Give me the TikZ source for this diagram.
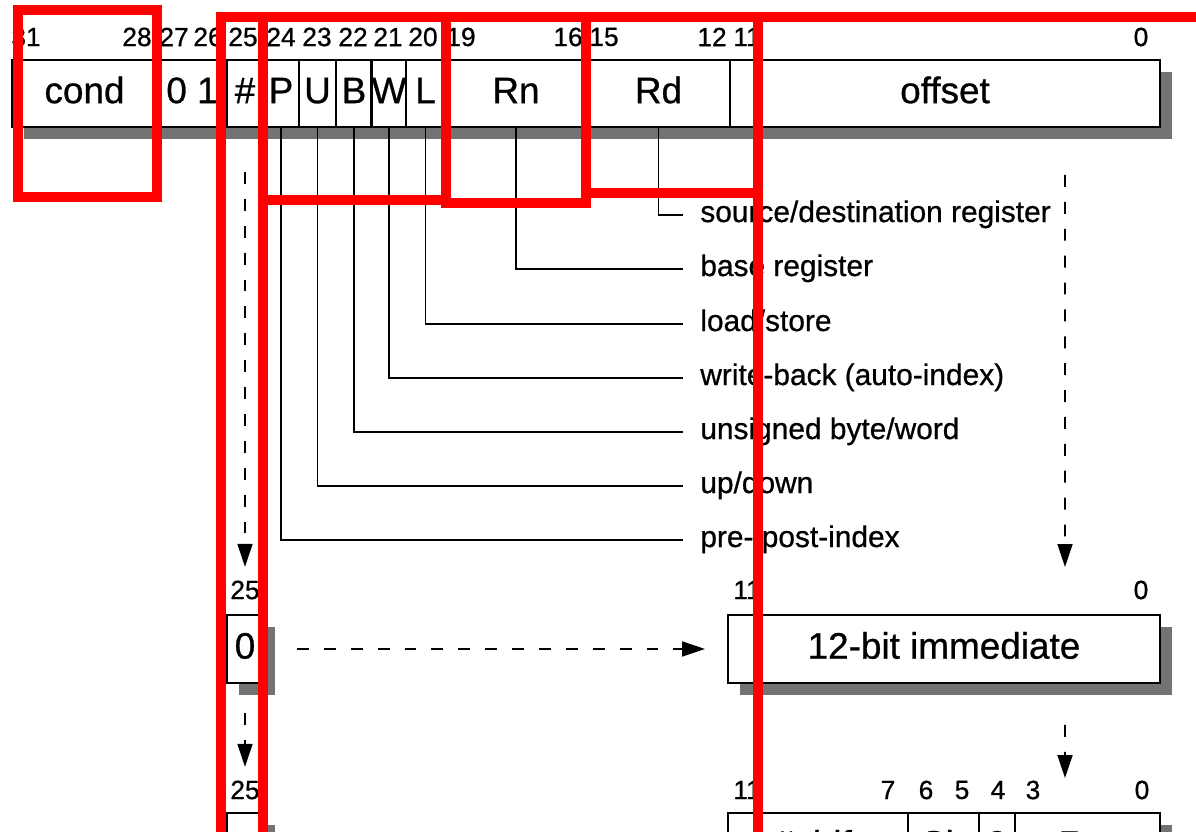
\documentclass[tikz,border=0pt]{standalone}
\usepackage{fontspec}
\setmainfont{Liberation Sans}[FakeBold=0.7]
\usetikzlibrary{arrows.meta,backgrounds}

\begin{document}
\begin{tikzpicture}
  [
    field/.style={draw=black, fill=white, line width=1.3pt, minimum height=1.34cm,
    inner sep=0pt, outer sep=0pt, text height=15pt, text depth=4pt,
    font=\fontsize{21}{21}\selectfont},
    bitno/.style={inner sep=0pt, font=\fontsize{15}{15}\selectfont},
    lbl/.style={anchor=west, inner sep=0pt, text height=12pt, text depth=4pt,
    font=\fontsize{17}{17}\selectfont},
    ld/.style={draw=black, line width=0.9pt, shorten >=0.34cm},
    flow/.style={draw=black, line width=1pt, dash pattern=on 6.8pt off 8.5pt,
    -{Triangle[length=13pt, width=8.5pt]}},
    shade/.style={fill=black!55},
    redbox/.style={draw=red, line width=0.2cm}
  ]
  \useasboundingbox (0,0) rectangle (23.92,-16.64);

  % instruction word
  \node (fCond)   at ( 1.69,-1.87) [field, minimum width=2.90cm] {cond};
  \node (fOp)     at ( 3.84,-1.87) [field, minimum width=1.40cm] {0 1};
  \node (fHash)   at ( 4.90,-1.87) [field, minimum width=0.72cm] {\#};
  \node (fP)      at ( 5.62,-1.87) [field, minimum width=0.72cm] {P};
  \node (fU)      at ( 6.35,-1.87) [field, minimum width=0.74cm] {U};
  \node (fB)      at ( 7.08,-1.87) [field, minimum width=0.72cm] {B};
  \node (fW)      at ( 7.78,-1.87) [field, minimum width=0.68cm] {W};
  \node (fL)      at ( 8.51,-1.87) [field, minimum width=0.78cm] {L};
  \node (fRn)     at (10.32,-1.87) [field, minimum width=2.84cm] {Rn};
  \node (fRd)     at (13.17,-1.87) [field, minimum width=2.86cm] {Rd};
  \node (fOffset) at (18.90,-1.87) [field, minimum width=8.60cm] {offset};

  \node (b31) at ( 0.52,-0.74) [bitno] {31};
  \node (b28) at ( 2.74,-0.74) [bitno] {28};
  \node (b27) at ( 3.48,-0.74) [bitno] {27};
  \node (b26) at ( 4.16,-0.74) [bitno] {26};
  \node (b25) at ( 4.86,-0.74) [bitno] {25};
  \node (b24) at ( 5.62,-0.74) [bitno] {24};
  \node (b23) at ( 6.34,-0.74) [bitno] {23};
  \node (b22) at ( 7.06,-0.74) [bitno] {22};
  \node (b21) at ( 7.76,-0.74) [bitno] {21};
  \node (b20) at ( 8.46,-0.74) [bitno] {20};
  \node (b19) at ( 9.22,-0.74) [bitno] {19};
  \node (b16) at (11.36,-0.74) [bitno] {16};
  \node (b15) at (12.08,-0.74) [bitno] {15};
  \node (b12) at (14.24,-0.74) [bitno] {12};
  \node (b11) at (14.94,-0.74) [bitno] {11};
  \node (b0)  at (22.82,-0.74) [bitno] {0};

  % field meanings
  \node (lRd) at (14.0, -4.30) [lbl] {source/destination register};
  \node (lRn) at (14.0, -5.38) [lbl] {base register};
  \node (lL)  at (14.0, -6.48) [lbl] {load/store};
  \node (lW)  at (14.0, -7.56) [lbl] {write-back (auto-index)};
  \node (lB)  at (14.0, -8.64) [lbl] {unsigned byte/word};
  \node (lU)  at (14.0, -9.72) [lbl] {up/down};
  \node (lP)  at (14.0,-10.80) [lbl] {pre-/post-index};

  \draw [ld] (fRd.south) |- (lRd.west);
  \draw [ld] (fRn.south) |- (lRn.west);
  \draw [ld] (fL.south) |- (lL.west);
  \draw [ld] (fW.south) |- (lW.west);
  \draw [ld] (fB.south) |- (lB.west);
  \draw [ld] (fU.south) |- (lU.west);
  \draw [ld] (fP.south) |- (lP.west);

  % immediate offset
  \node (b25m) at ( 4.90,-11.80) [bitno] {25};
  \node (b11m) at (14.94,-11.80) [bitno] {11};
  \node (b0m)  at (22.82,-11.80) [bitno] {0};
  \node (fZero) at ( 4.90,-12.98) [field, minimum width=0.72cm, minimum height=1.36cm] {0};
  \node (fImm)  at (18.88,-12.98) [field, minimum width=8.64cm, minimum height=1.36cm] {12-bit immediate};

  % register offset
  \node (b25b) at ( 4.90,-15.80) [bitno] {25};
  \node (b11b) at (14.94,-15.80) [bitno] {11};
  \node (b7b)  at (17.76,-15.80) [bitno] {7};
  \node (b6b)  at (18.52,-15.80) [bitno] {6};
  \node (b5b)  at (19.24,-15.80) [bitno] {5};
  \node (b4b)  at (19.96,-15.80) [bitno] {4};
  \node (b3b)  at (20.66,-15.80) [bitno] {3};
  \node (b0b)  at (22.84,-15.80) [bitno] {0};
  \node (fReg)   at ( 4.90,-16.94) [field, minimum width=0.72cm, minimum height=1.36cm] {};
  \node (fShift) at (16.36,-16.94) [field, minimum width=3.60cm, minimum height=1.36cm] {\#shift};
  \node (fSh)    at (18.87,-16.94) [field, minimum width=1.42cm, minimum height=1.36cm] {Sh};
  \node (fNil)   at (19.94,-16.94) [field, minimum width=0.72cm, minimum height=1.36cm] {0};
  \node (fRm)    at (21.75,-16.94) [field, minimum width=2.90cm, minimum height=1.36cm] {Rm};

  \begin{pgfonlayer}{background}
    \fill [shade] ([shift={(0.24,-0.24)}]fCond.south west) rectangle ([shift={(0.24,-0.24)}]fOffset.north east);
    \fill [shade] ([shift={(0.24,-0.24)}]fZero.south west) rectangle ([shift={(0.24,-0.24)}]fZero.north east);
    \fill [shade] ([shift={(0.24,-0.24)}]fImm.south west) rectangle ([shift={(0.24,-0.24)}]fImm.north east);
    \fill [shade] ([shift={(0.24,-0.24)}]fReg.south west) rectangle ([shift={(0.24,-0.24)}]fReg.north east);
    \fill [shade] ([shift={(0.24,-0.24)}]fShift.south west) rectangle ([shift={(0.24,-0.24)}]fRm.north east);
  \end{pgfonlayer}

  \draw [flow, shorten >=0.27cm] ([yshift=-0.9cm]fHash.south) -- (b25m.north);
  \draw [flow, shorten >=0.96cm] ([xshift=2.4cm, yshift=-0.96cm]fOffset.south) -- ([xshift=2.42cm]fImm.north);
  \draw [flow, shorten <=0.68cm, shorten >=0.46cm] (fZero.east) -- (fImm.west);
  \draw [flow, shorten <=0.6cm, shorten >=0.27cm] (fZero.south) -- (b25b.north);
  \draw [flow, shorten <=0.84cm, shorten >=0.7cm] ([xshift=2.42cm]fImm.south) -- ([xshift=-0.45cm]fRm.north);

  % red markings
  \draw [redbox] ( 0.36,-0.20) rectangle ( 3.14,-3.94);
  \draw [redbox] ( 4.42,-0.35) rectangle ( 5.26,-17.5);
  \draw [redbox] ( 5.26,-0.35) rectangle ( 8.92,-4.00);
  \draw [redbox] ( 8.92,-0.35) rectangle (11.72,-4.06);
  \draw [redbox] (11.72,-0.35) rectangle (15.16,-3.86);
  \draw [redbox] (15.16,-0.35) rectangle (25.00,-17.5);
\end{tikzpicture}
\end{document}
